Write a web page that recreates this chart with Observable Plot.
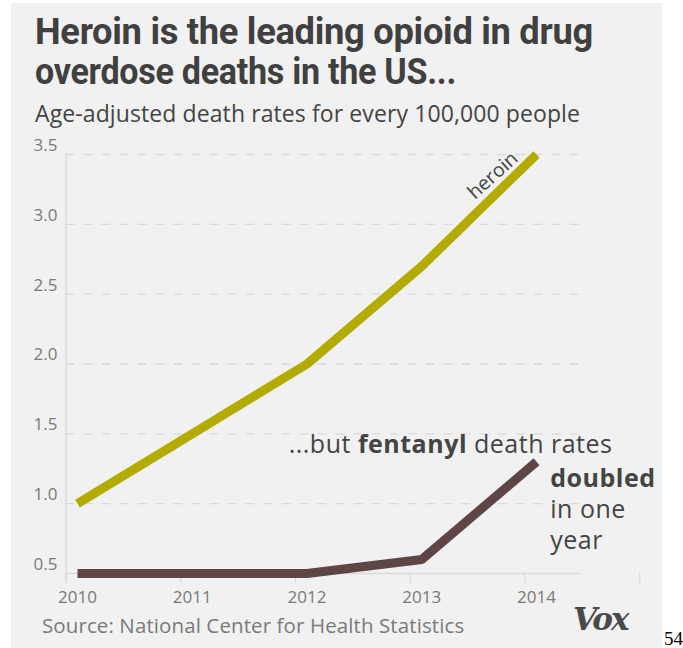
<!DOCTYPE html>
<html>
<head>
<meta charset="utf-8">
<script src="https://cdn.jsdelivr.net/npm/d3@7"></script>
<script src="https://cdn.jsdelivr.net/npm/@observablehq/plot@0.6"></script>
<style>
  html, body { margin: 0; padding: 0; background: #ffffff; }
  #page { position: relative; width: 683px; height: 648px; overflow: hidden; }
  #panel { position: absolute; left: 11px; top: 3px; width: 651px; height: 645px; background: #f0f1f0; }
  .abs { position: absolute; white-space: nowrap; }
  .tline { position: absolute; left: 35px; white-space: nowrap; font-family: Roboto, "Liberation Sans", sans-serif; font-weight: 700; font-size: 36px; line-height: 40px; color: #404040; transform-origin: 0 0; letter-spacing: -0.3px; }
  #title1 { top: 12px; }
  #title2 { top: 52px; }
  #subtitle { left: 35px; top: 99px; font-family: "Open Sans", sans-serif; font-size: 23px; line-height: 28px; color: #444; letter-spacing: 0.1px; }
  #chart { left: 0; top: 130px; }
  #source { left: 42px; top: 611px; font-family: "Open Sans", sans-serif; font-size: 20.5px; line-height: 28px; color: #7a7a7a; letter-spacing: 0.1px; }
  #vox { left: 573px; top: 601px; font-family: "DejaVu Serif", serif; font-style: italic; font-weight: 700; font-size: 31px; line-height: 36px; color: #4a4a4a; letter-spacing: -2px; }
  #page-num { left: 664px; top: 628px; font-family: "Liberation Serif", serif; font-size: 19px; line-height: 22px; color: #000; }
</style>
</head>
<body>
<div id="page">
  <div id="panel"></div>
  <div id="title1" class="tline">Heroin is the leading opioid in drug</div>
  <div id="title2" class="tline">overdose deaths in the US...</div>
  <div id="subtitle" class="abs">Age-adjusted death rates for every 100,000 people</div>
  <div id="chart" class="abs"></div>
  <div id="source" class="abs">Source: National Center for Health Statistics</div>
  <div id="vox" class="abs">Vox</div>
  <div id="page-num" class="abs">54</div>
</div>
<script>
// ---- data ----
const years = [2010, 2011, 2012, 2013, 2014];
const heroinRates = [1.0, 1.5, 2.0, 2.7, 3.5];
const fentanylRates = [0.5, 0.5, 0.5, 0.6, 1.3];
const yTicks = [0.5, 1.0, 1.5, 2.0, 2.5, 3.0, 3.5];
const xTickLabels = ["2010", "2011", "2012", "2013", "2014"];
const xTickMarks = [2009.9, 2010.9, 2011.9, 2012.9, 2013.9, 2014.9];
const gridExtent = [2009.9, 2014.38];
const tickDrop = 0.072;

// annotations (data coordinates)
const heroinNote = [{year: 2013.62, rate: 3.35, text: "heroin"}];
const fentanylNote = [{year: 2011.84, rate: 1.42, text: "...but fentanyl death rates"}];
const doubledNote = [{year: 2014.12, rate: 1.278, text: "doubled\nin one\nyear"}];

const heroin = years.map((year, i) => ({year, rate: heroinRates[i]}));
const fentanyl = years.map((year, i) => ({year, rate: fentanylRates[i]}));

const heroinColor = "#b4ab00";
const fentanylColor = "#5f4545";
const gridColor = "#d8d9d8";
const labelColor = "#7a7a7a";
const inkColor = "#444444";
const sans = "'Open Sans', sans-serif";

// condense the title lines to the reference widths
(function fitTitle() {
  const l1 = document.getElementById("title1");
  const l2 = document.getElementById("title2");
  l1.style.transform = `scaleX(${558 / l1.getBoundingClientRect().width})`;
  l2.style.transform = `scaleX(${421 / l2.getBoundingClientRect().width})`;
})();

const chart = Plot.plot({
  width: 683,
  height: 480,
  marginTop: 24,
  marginBottom: 37,
  marginLeft: 77,
  marginRight: 147,
  style: {background: "transparent", fontFamily: sans, overflow: "visible"},
  x: {domain: [2010, 2014], axis: null},
  y: {domain: [0.5, 3.5], axis: null},
  marks: [
    Plot.ruleY(yTicks.slice(1), {y: d => d, x1: gridExtent[0], x2: gridExtent[1], stroke: gridColor, strokeWidth: 1.3, strokeDasharray: "9,9"}),
    Plot.ruleY([yTicks[0]], {y: d => d, x1: gridExtent[0], x2: gridExtent[1], stroke: gridColor, strokeWidth: 1.3}),
    Plot.ruleX([gridExtent[0]], {x: d => d, y1: yTicks[0] - tickDrop, y2: yTicks[yTicks.length - 1], stroke: gridColor, strokeWidth: 1.3}),
    Plot.ruleX(xTickMarks, {x: d => d, y1: yTicks[0] - tickDrop, y2: yTicks[0], stroke: gridColor, strokeWidth: 1.3}),
    Plot.axisX(years, {label: null, tickSize: 0, tickPadding: 17, tickFormat: (d, i) => xTickLabels[i], color: labelColor, fontSize: 17, style: {letterSpacing: "1px"}}),
    Plot.axisY(yTicks, {label: null, tickSize: 0, tickPadding: 20, dy: -9, tickFormat: d3.format(".1f"), color: labelColor, fontSize: 17, style: {letterSpacing: "1px"}}),
    Plot.line(heroin, {x: "year", y: "rate", stroke: heroinColor, strokeWidth: 9, strokeLinecap: "butt", strokeLinejoin: "miter"}),
    Plot.line(fentanyl, {x: "year", y: "rate", stroke: fentanylColor, strokeWidth: 9, strokeLinecap: "butt", strokeLinejoin: "miter"}),
    Plot.text(heroinNote, {x: "year", y: "rate", text: "text", rotate: -42, fill: inkColor, fontSize: 19.5}),
    Plot.text(fentanylNote, {x: "year", y: "rate", text: "text", textAnchor: "start", fill: inkColor, fontSize: 25, className: "fent-note"}),
    Plot.text(doubledNote, {x: "year", y: "rate", text: "text", textAnchor: "start", lineAnchor: "top", lineHeight: 1.24, fill: inkColor, fontSize: 25, className: "doubled-note"})
  ]
});
document.getElementById("chart").appendChild(chart);

// annotation letter spacing, bold "fentanyl" and the word "doubled"
d3.select(chart).selectAll(".fent-note text, .doubled-note text").style("letter-spacing", "0.5px");
d3.select(chart).selectAll(".doubled-note text tspan").filter((d, i) => i === 0).attr("font-weight", 700);
d3.select(chart).selectAll(".fent-note text").each(function() {
  const t = d3.select(this);
  t.text(null);
  t.append("tspan").text("...but ");
  t.append("tspan").attr("font-weight", 700).text("fentanyl");
  t.append("tspan").text(" death rates");
});
</script>
</body>
</html>
